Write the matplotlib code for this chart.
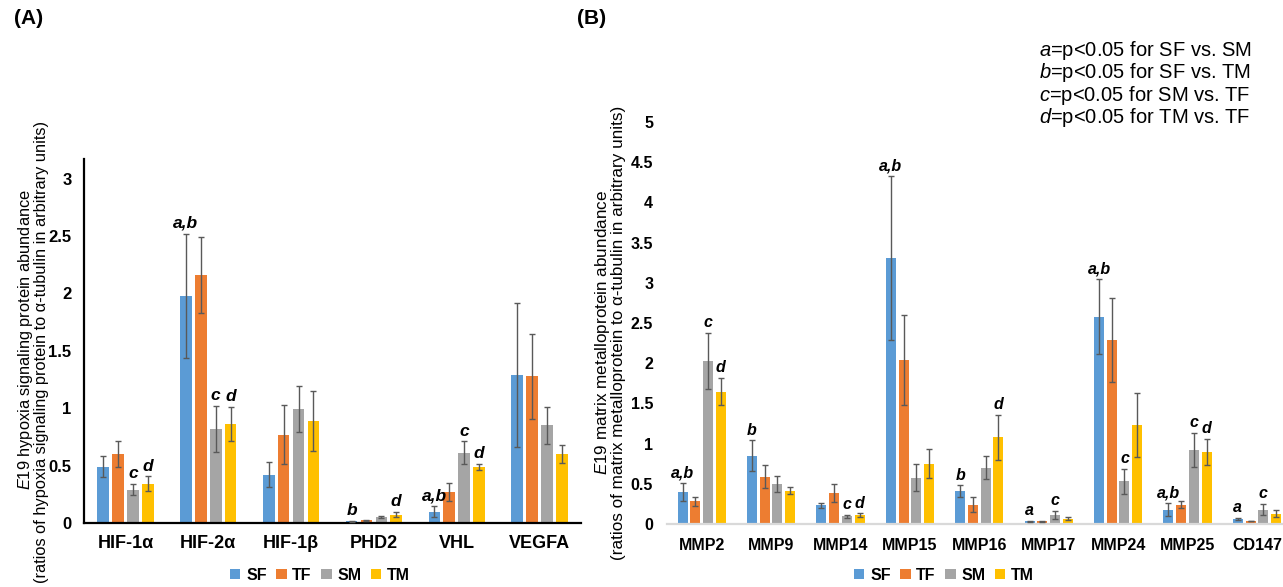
import numpy as np
import matplotlib
matplotlib.use("Agg")
import matplotlib.pyplot as plt

plt.rcParams['font.family'] = ['Liberation Sans', 'DejaVu Sans']
plt.rcParams['mathtext.fontset'] = 'custom'
plt.rcParams['mathtext.rm'] = 'Liberation Sans'
plt.rcParams['mathtext.it'] = 'Liberation Sans:italic'
plt.rcParams['mathtext.bf'] = 'Liberation Sans:bold'

groups = ['SF', 'TF', 'SM', 'TM']
colors = ['#5B9BD5', '#ED7D31', '#A5A5A5', '#FFC000']

# Panel A: hypoxia signaling proteins
cats_a = ['HIF-1α', 'HIF-2α', 'HIF-1β', 'PHD2', 'VHL', 'VEGFA']
mean_a = {
    'SF': [0.49, 1.98, 0.42, 0.015, 0.10, 1.29],
    'TF': [0.60, 2.16, 0.77, 0.023, 0.27, 1.28],
    'SM': [0.29, 0.82, 0.99, 0.05, 0.61, 0.85],
    'TM': [0.34, 0.86, 0.89, 0.073, 0.49, 0.60],
}
err_a = {
    'SF': [0.09, 0.54, 0.11, 0.005, 0.045, 0.63],
    'TF': [0.115, 0.33, 0.26, 0.005, 0.08, 0.37],
    'SM': [0.05, 0.20, 0.20, 0.01, 0.10, 0.16],
    'TM': [0.065, 0.15, 0.26, 0.025, 0.025, 0.08],
}
# (category index, group, letters)
sig_a = [(0, 'SM', 'c'), (0, 'TM', 'd'),
         (1, 'SF', 'a,b'), (1, 'SM', 'c'), (1, 'TM', 'd'),
         (3, 'SF', 'b'), (3, 'TM', 'd'),
         (4, 'SF', 'a,b'), (4, 'SM', 'c'), (4, 'TM', 'd')]

# Panel B: matrix metalloproteins
cats_b = ['MMP2', 'MMP9', 'MMP14', 'MMP15', 'MMP16', 'MMP17', 'MMP24', 'MMP25', 'CD147']
mean_b = {
    'SF': [0.40, 0.85, 0.235, 3.31, 0.41, 0.034, 2.58, 0.18, 0.064],
    'TF': [0.28, 0.59, 0.385, 2.04, 0.24, 0.034, 2.29, 0.24, 0.038],
    'SM': [2.03, 0.50, 0.094, 0.577, 0.70, 0.11, 0.53, 0.92, 0.18],
    'TM': [1.645, 0.415, 0.107, 0.748, 1.08, 0.064, 1.23, 0.90, 0.128],
}
err_b = {
    'SF': [0.11, 0.19, 0.03, 1.02, 0.07, 0.005, 0.47, 0.075, 0.01],
    'TF': [0.06, 0.14, 0.11, 0.56, 0.095, 0.005, 0.52, 0.045, 0.005],
    'SM': [0.35, 0.10, 0.02, 0.17, 0.14, 0.05, 0.16, 0.21, 0.07],
    'TM': [0.17, 0.045, 0.025, 0.18, 0.28, 0.02, 0.395, 0.16, 0.04],
}
sig_b = [(0, 'SF', 'a,b'), (0, 'SM', 'c'), (0, 'TM', 'd'),
         (1, 'SF', 'b'),
         (2, 'SM', 'c'), (2, 'TM', 'd'),
         (3, 'SF', 'a,b'),
         (4, 'SF', 'b'), (4, 'TM', 'd'),
         (5, 'SF', 'a'), (5, 'SM', 'c'),
         (6, 'SF', 'a,b'), (6, 'SM', 'c'),
         (7, 'SF', 'a,b'), (7, 'SM', 'c'), (7, 'TM', 'd'),
         (8, 'SF', 'a'), (8, 'SM', 'c')]

key_lines = [r'$\mathit{a}$=p<0.05 for SF vs. SM',
             r'$\mathit{b}$=p<0.05 for SF vs. TM',
             r'$\mathit{c}$=p<0.05 for SM vs. TF',
             r'$\mathit{d}$=p<0.05 for TM vs. TF']

W, H = 1283, 587
fig = plt.figure(figsize=(W / 100, H / 100), dpi=100)


def px_axes(x0, x1, ytop, ybot):
    return fig.add_axes([x0 / W, 1 - ybot / H, (x1 - x0) / W, (ybot - ytop) / H])


def draw_bars(ax, cats, mean, err, sig, width, step, fs_sig):
    x = np.arange(len(cats))
    for i, g in enumerate(groups):
        xs = x + (i - 1.5) * step
        ax.bar(xs, mean[g], width, color=colors[i], label=g, zorder=2)
        ax.errorbar(xs, mean[g], yerr=err[g], fmt='none', ecolor='#595959',
                    elinewidth=1.0, capsize=2.5, capthick=1.0, zorder=3)
    for ci, g, txt in sig:
        gi = groups.index(g)
        xs = ci + (gi - 1.5) * step
        top = mean[g][ci] + err[g][ci]
        ax.annotate(txt, (xs, top), xytext=(0, 2), textcoords='offset points',
                    ha='center', va='bottom', fontsize=fs_sig,
                    fontweight='bold', fontstyle='italic')
    ax.set_xticks(x)
    ax.set_xticklabels(cats, fontweight='bold')
    for s in ['top', 'right']:
        ax.spines[s].set_visible(False)
    ax.tick_params(length=0)


# Panel A
axA = px_axes(84, 581, 159, 523)
draw_bars(axA, cats_a, mean_a, err_a, sig_a, 0.14, 0.18, 12.5)
axA.set_xlim(-0.5, 5.5)
axA.set_ylim(0, 3.17)
axA.set_yticks([0, 0.5, 1, 1.5, 2, 2.5, 3])
axA.set_yticklabels(['0', '0.5', '1', '1.5', '2', '2.5', '3'], fontweight='bold')
axA.tick_params(axis='y', labelsize=12, pad=9)
axA.tick_params(axis='x', labelsize=13, pad=9)
for s in ['left', 'bottom']:
    axA.spines[s].set_linewidth(1.6)
    axA.spines[s].set_color('black')
axA.legend(loc='center', bbox_to_anchor=((320 - 84) / 497, -(575 - 523) / 364),
           ncol=4, frameon=False, handlelength=0.65, handleheight=0.65,
           handletextpad=0.35, columnspacing=0.6, prop={'weight': 'bold', 'size': 11.5})

# Panel B
axB = px_axes(667, W, 122, 524)
draw_bars(axB, cats_b, mean_b, err_b, sig_b, 0.145, 0.183, 11.5)
axB.set_xlim(-0.5, -0.5 + (W - 667) / 69.4)
axB.set_ylim(0, 5)
axB.set_yticks([0, 0.5, 1, 1.5, 2, 2.5, 3, 3.5, 4, 4.5, 5])
axB.set_yticklabels(['0', '0.5', '1', '1.5', '2', '2.5', '3', '3.5', '4', '4.5', '5'],
                    fontweight='bold')
axB.tick_params(axis='y', labelsize=11.5, pad=10)
axB.tick_params(axis='x', labelsize=11.5, pad=10)
axB.spines['left'].set_visible(False)
axB.spines['bottom'].set_color('#D9D9D9')
axB.spines['bottom'].set_linewidth(1.6)
axB.legend(loc='center', bbox_to_anchor=((944 - 667) / (W - 667), -(575 - 524) / 402),
           ncol=4, frameon=False, handlelength=0.65, handleheight=0.65,
           handletextpad=0.35, columnspacing=0.6, prop={'weight': 'bold', 'size': 11.5})

# y-axis titles
fig.text(26 / W, 1 - 340 / H, r'$\mathit{E}$19 hypoxia signaling protein abundance',
         rotation=90, ha='center', va='center', fontsize=11.8)
fig.text(42 / W, 1 - 352 / H,
         '(ratios of hypoxia signaling protein to α-tubulin in arbitrary units)',
         rotation=90, ha='center', va='center', fontsize=11.8)
fig.text(603 / W, 1 - 333 / H, r'$\mathit{E}$19 matrix metalloprotein abundance',
         rotation=90, ha='center', va='center', fontsize=12.3)
fig.text(619 / W, 1 - 333 / H,
         '(ratios of matrix metalloprotein to α-tubulin in arbitrary units)',
         rotation=90, ha='center', va='center', fontsize=12.3)

# panel tags
fig.text(14 / W, 1 - 19 / H, '(A)', fontsize=15, fontweight='bold', ha='left', va='center')
fig.text(577 / W, 1 - 19 / H, '(B)', fontsize=15, fontweight='bold', ha='left', va='center')

# significance key
for k, line in enumerate(key_lines):
    fig.text(1039 / W, 1 - (50.5 + 22.5 * k) / H, line, fontsize=14.5,
             ha='left', va='center')

fig.savefig('out.png', dpi=100)
